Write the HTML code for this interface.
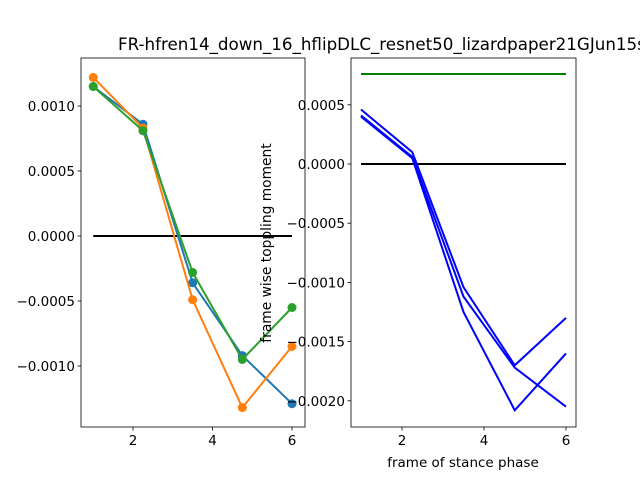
<!DOCTYPE html>
<html><head><meta charset="utf-8"><style>
body{margin:0;background:#fff}
svg{display:block;font-family:"DejaVu Sans","Liberation Sans",sans-serif}
</style></head><body>
<svg id="c" width="640" height="480" xmlns="http://www.w3.org/2000/svg"></svg>
<script>
const xs=[1,2.25,3.5,4.75,6];
const leftBlue=[0.00115,0.00086,-0.00036,-0.00092,-0.00129];
const leftOrange=[0.00122,0.00083,-0.00049,-0.00132,-0.00085];
const leftGreen=[0.00115,0.00081,-0.00028,-0.00095,-0.00055];
const rightL1=[0.00046,0.0001,-0.00104,-0.0017,-0.0013];
const rightL2=[0.00041,0.00006,-0.00112,-0.00172,-0.00205];
const rightL3=[0.0004,0.00005,-0.00125,-0.00208,-0.0016];
const rightGreen=0.00076;
const leftYTicks=[0.001,0.0005,0,-0.0005,-0.001];
const leftYLabels=["0.0010","0.0005","0.0000","\u22120.0005","\u22120.0010"];
const rightYTicks=[0.0005,0,-0.0005,-0.001,-0.0015,-0.002];
const rightYLabels=["0.0005","0.0000","\u22120.0005","\u22120.0010","\u22120.0015","\u22120.0020"];
const xTicks=[2,4,6];
const svg=document.getElementById('c');
const NS="http://www.w3.org/2000/svg";
function el(t,a,p){const e=document.createElementNS(NS,t);for(const k in a)e.setAttribute(k,a[k]);(p||svg).appendChild(e);return e;}
const Lx=v=>133+(v-2)*39.75, Ly=v=>236-v*130000;
const Rx=v=>402+(v-2)*41, Ry=v=>164-v*118400;
function axes(x0,y0,w,h,name,fx,fy,yt,yl){
  const g=el('g',{});
  
  
  xTicks.forEach(t=>{const x=fx(t);el('line',{x1:x,x2:x,y1:y0+h,y2:y0+h+3.5,stroke:'#000','stroke-width':0.8},g);
    const tx=el('text',{x:x,y:y0+h+18,'font-size':'13.5','text-anchor':'middle'},g);tx.textContent=t;
    });
  yt.forEach((t,i)=>{const y=fy(t);el('line',{x1:x0,x2:x0-3.5,y1:y,y2:y,stroke:'#000','stroke-width':0.8},g);
    const tx=el('text',{x:x0-6,y:y+5,'font-size':'13.5','text-anchor':'end'},g);tx.textContent=yl[i];
    });
  return g;
}
function line(vals,fx,fy,color,name,markers,w){
  const g=el('g',{});
  
  
  el('polyline',{points:vals.map((v,i)=>fx(xs[i])+','+fy(v)).join(' '),fill:'none',stroke:color,'stroke-width':w||2},g);
  if(markers)vals.forEach((v,i)=>{const c=el('circle',{cx:fx(xs[i]),cy:fy(v),r:4.5,fill:color},g);
    });
}
axes(81,58,224,369,'left-axes',Lx,Ly,leftYTicks,leftYLabels);
el('line',{x1:Lx(1),x2:Lx(6),y1:Ly(0),y2:Ly(0),stroke:'#000','stroke-width':2});
line(leftBlue,Lx,Ly,'#1f77b4','series-blue',true);
line(leftOrange,Lx,Ly,'#ff7f0e','series-orange',true);
line(leftGreen,Lx,Ly,'#2ca02c','series-green',true);
el('rect',{x:81,y:58,width:224,height:369,fill:'none',stroke:'#000','stroke-width':0.8});

axes(351,58,225,369,'right-axes',Rx,Ry,rightYTicks,rightYLabels);
el('rect',{x:351,y:58,width:225,height:369,fill:'none',stroke:'#000','stroke-width':0.8});
const ylab=el('text',{x:0,y:0,'font-size':'13.8','text-anchor':'middle',transform:'translate(271,243) rotate(-90)'});
ylab.textContent='frame wise toppling moment';

el('line',{x1:Rx(1),x2:Rx(6),y1:Ry(rightGreen),y2:Ry(rightGreen),stroke:'green','stroke-width':2});
el('line',{x1:Rx(1),x2:Rx(6),y1:Ry(0),y2:Ry(0),stroke:'#000','stroke-width':2});
line(rightL1,Rx,Ry,'blue','right-line-1',false);
line(rightL2,Rx,Ry,'blue','right-line-2',false);
line(rightL3,Rx,Ry,'blue','right-line-3',false);
const xl=el('text',{x:463,y:467,'font-size':'13.5','text-anchor':'middle'});
xl.textContent='frame of stance phase';

const ti=el('text',{x:118,y:50,'font-size':'16.7'});
ti.textContent='FR-hfren14_down_16_hflipDLC_resnet50_lizardpaper21GJun15shuffle1';

</script>
</body></html>
